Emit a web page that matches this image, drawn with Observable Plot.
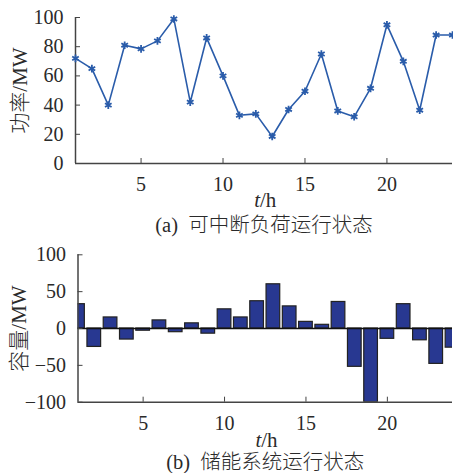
<!DOCTYPE html>
<html><head><meta charset="utf-8">
<script src="https://cdn.jsdelivr.net/npm/d3@7"></script>
<script src="https://cdn.jsdelivr.net/npm/@observablehq/plot@0.6"></script>
<style>body{margin:0;background:#fff}svg{display:block}</style>
</head><body><div id="chart"></div>
<script>
const hours = [1,2,3,4,5,6,7,8,9,10,11,12,13,14,15,16,17,18,19,20,21,22,23,24];
const loadMW = [72,65,40,81,78.5,84,99,42,86,60,33,34,18.5,37,49.5,75,36,32,51.5,95,70,36.5,88,88];
const storageMW = [33,-25,15,-15,-3,11,-5,7,-7,26,15,37,60,30,9,5,36,-52,-100,-14,33,-16,-48,-26];
const xTicks = [5,10,15,20];
const yTicksA = [0,20,40,60,80,100];
const yTicksB = [-100,-50,0,50,100];
const xLabelItalic = "t";
const xLabelRest = "/h";
const yLabelA = "功率/MW";
const yLabelB = "容量/MW";
const captionA = "(a)  可中断负荷运行状态";
const captionB = "(b)  储能系统运行状态";

const dataA = hours.map((t,i)=>({t, v: loadMW[i]}));
const dataB = hours.map((t,i)=>({t, v: storageMW[i]}));

const FONT = "'Liberation Serif', 'Noto Sans CJK SC', serif";
const AX = "#444";
const LINE = "#2a5caa";
const TXT = "#2a2a2a";

function labels(dyX, dyCap, dxY, cap, yl){
  return [
    Plot.text([xLabelItalic], {text: d=>d, frameAnchor:"bottom", textAnchor:"end", lineAnchor:"middle", dx:-4, dy:dyX, fontSize:21, fontStyle:"italic", fill:TXT}),
    Plot.text([xLabelRest], {text: d=>d, frameAnchor:"bottom", textAnchor:"start", lineAnchor:"middle", dx:-4, dy:dyX, fontSize:21, fill:TXT}),
    Plot.text([cap], {text: d=>d, frameAnchor:"bottom", textAnchor:"middle", lineAnchor:"middle", dy:dyCap, fontSize:20.5, fontWeight:300, fill:TXT, style:"white-space:pre"}),
    Plot.text([yl], {text: d=>d, frameAnchor:"left", textAnchor:"middle", lineAnchor:"middle", rotate:-90, dx:dxY, fontSize:21, fontWeight:300, fill:TXT})
  ];
}

const plotA = Plot.plot({
  width: 453, height: 240,
  marginLeft: 75, marginRight: 1, marginTop: 17, marginBottom: 77,
  style: {fontFamily: FONT, fontSize: "20px", color: TXT, overflow: "visible"},
  x: {domain: [1,24]},
  y: {domain: [0,100]},
  marks: [
    Plot.ruleX([1], {stroke: AX, strokeWidth: 1.5}),
    Plot.ruleY([0], {stroke: AX, strokeWidth: 1.5}),
    Plot.axisX({ticks: xTicks, tickSize: 5, dy: -5, tickPadding: 13, stroke: AX, label: null, fontSize: 20}),
    Plot.axisY({ticks: yTicksA, tickSize: 5, dx: 5, tickPadding: 12, stroke: AX, label: null, fontSize: 20}),
    Plot.line(dataA, {x: "t", y: "v", stroke: LINE, strokeWidth: 1.6}),
    Plot.dot(dataA, {x: "t", y: "v", symbol: "asterisk", r: 3.6, stroke: LINE, strokeWidth: 1.8}),
    ...labels(37, 62, -55, captionA, yLabelA)
  ]
});

const plotB = Plot.plot({
  width: 453, height: 233,
  marginLeft: 77.5, marginRight: 1, marginTop: 14.3, marginBottom: 71.3,
  style: {fontFamily: FONT, fontSize: "20px", color: TXT, overflow: "visible"},
  x: {domain: [1,24]},
  y: {domain: [-100,100]},
  marks: [
    Plot.rectY(dataB, {x1: d=>d.t-0.42, x2: d=>d.t+0.42, y1: 0, y2: "v", fill: "#283891", stroke: "#222", strokeWidth: 1.2, clip: true}),
    Plot.ruleY([0], {stroke: "#111", strokeWidth: 1.5}),
    Plot.ruleX([1], {stroke: AX, strokeWidth: 1.5}),
    Plot.ruleY([-100], {stroke: AX, strokeWidth: 1.5}),
    Plot.axisX({ticks: xTicks, tickSize: 5, dy: -5, tickPadding: 14, stroke: AX, label: null, fontSize: 20}),
    Plot.axisY({ticks: yTicksB, tickSize: 5, dx: 5, tickPadding: 12, stroke: AX, label: null, fontSize: 20}),
    ...labels(38, 60, -59, captionB, yLabelB)
  ]
});

const c = document.getElementById("chart");
c.appendChild(plotA);
c.appendChild(plotB);
</script></body></html>
